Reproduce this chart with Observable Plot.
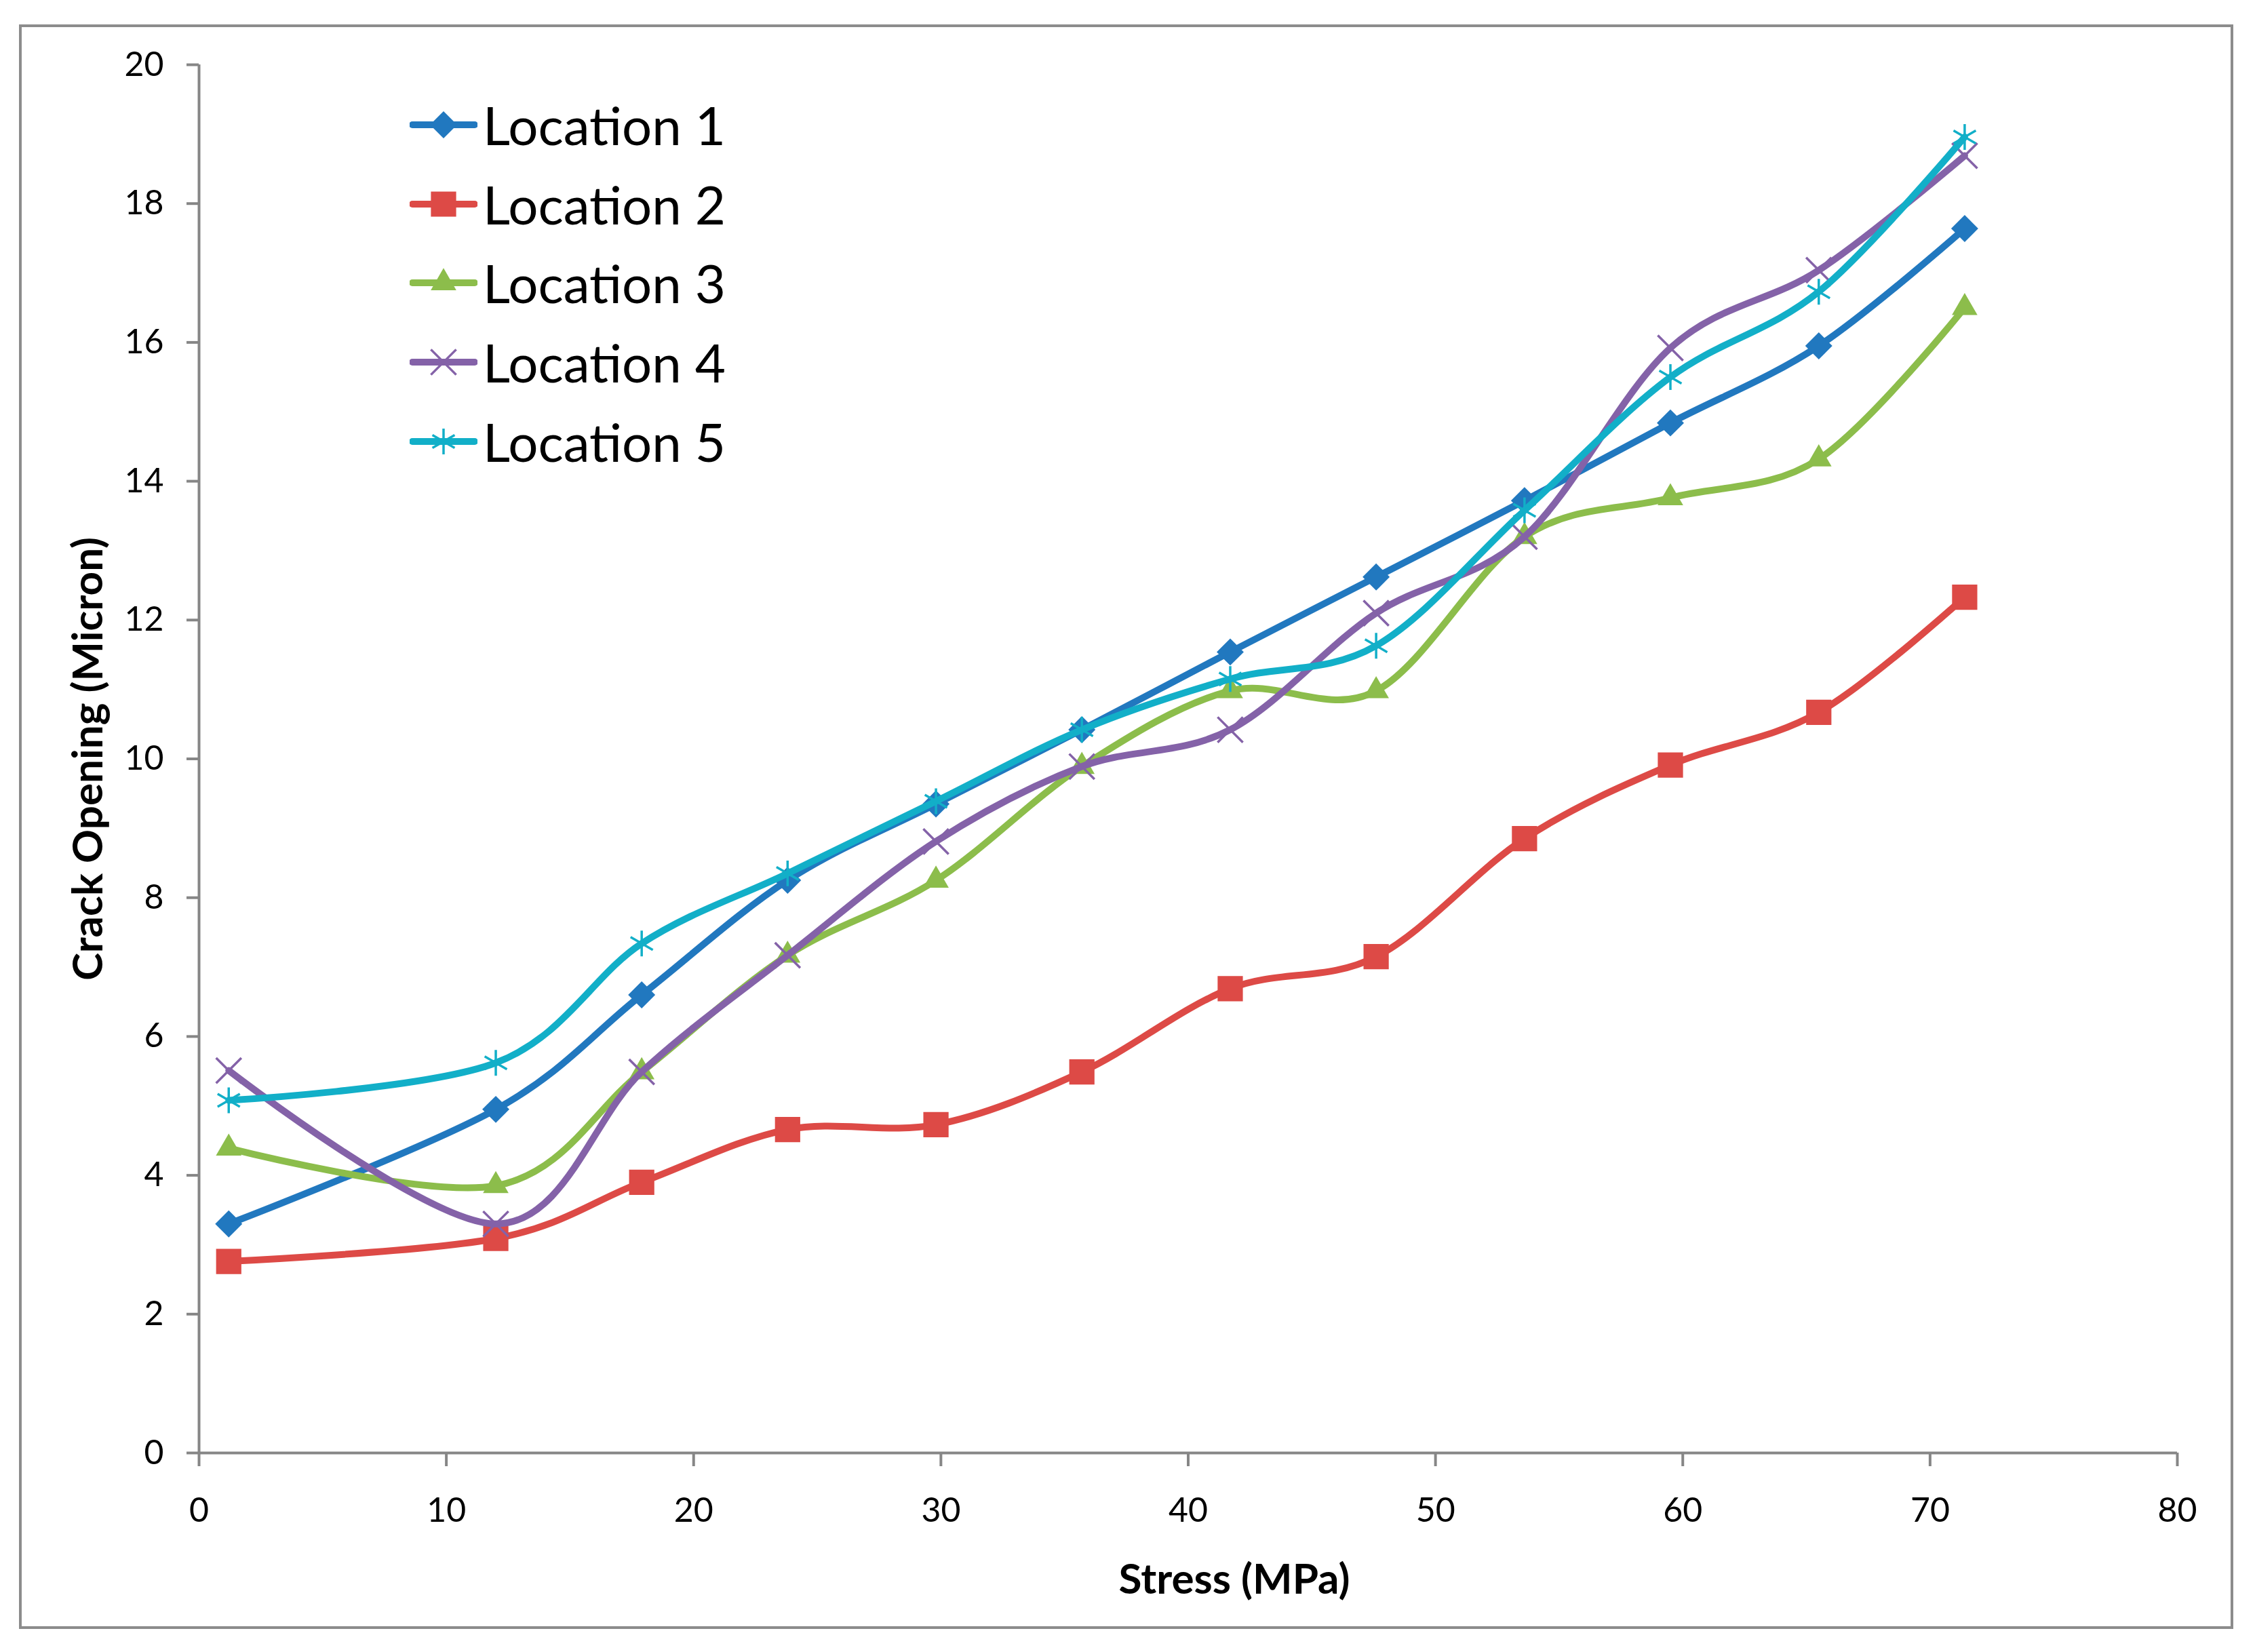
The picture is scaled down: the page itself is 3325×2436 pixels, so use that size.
<!DOCTYPE html>
<html><head><meta charset="utf-8">
<script src="https://cdn.jsdelivr.net/npm/d3@7"></script>
<script src="https://cdn.jsdelivr.net/npm/@observablehq/plot@0.6"></script>
<style>
html,body{margin:0;padding:0;background:#fff;}
#wrap{position:relative;width:3325px;height:2436px;overflow:hidden;font-family:Lato,"Open Sans",sans-serif;background:#fff;}
#frame{position:absolute;left:28px;top:36px;width:3257px;height:2358px;border:4px solid #8c8c8c;pointer-events:none;}
#chart{position:absolute;left:0;top:0;}
#legend{position:absolute;left:0;top:0;}
.item{position:absolute;display:flex;align-items:center;height:100px;}
.item span{font-size:78px;color:#000;margin-left:8px;line-height:1;white-space:nowrap;}
</style></head>
<body><div id="wrap"><div id="chart"></div><div id="legend"></div><div id="frame"></div></div>
<script>
// ---- data ----
const stress = [1.2, 12, 17.9, 23.8, 29.8, 35.7, 41.7, 47.6, 53.6, 59.5, 65.5, 71.4];
const location1 = [3.3, 4.95, 6.6, 8.25, 9.35, 10.42, 11.54, 12.62, 13.72, 14.84, 15.95, 17.64];
const location2 = [2.76, 3.09, 3.9, 4.66, 4.73, 5.49, 6.69, 7.15, 8.85, 9.91, 10.67, 12.33];
const location3 = [4.39, 3.85, 5.49, 7.17, 8.25, 9.89, 10.98, 10.98, 13.2, 13.76, 14.32, 16.5];
const location4 = [5.51, 3.3, 5.49, 7.17, 8.81, 9.89, 10.42, 12.1, 13.2, 15.92, 17.04, 18.69];
const location5 = [5.08, 5.62, 7.34, 8.35, 9.39, 10.42, 11.15, 11.63, 13.58, 15.5, 16.73, 18.96];
const seriesNames = ["Location 1", "Location 2", "Location 3", "Location 4", "Location 5"];
const xTicks = [0, 10, 20, 30, 40, 50, 60, 70, 80];
const yTicks = [0, 2, 4, 6, 8, 10, 12, 14, 16, 18, 20];
const xTitle = "Stress (MPa)";
const yTitle = "Crack Opening (Micron)";

// ---- styles ----
const seriesValues = [location1, location2, location3, location4, location5];
const styles = [
  {color: "#2178BF", symbol: "diamond2", filled: true, r: 18},
  {color: "#DD4A46", symbol: "square", filled: true, r: 21},
  {color: "#8CBD4B", symbol: "triangle", filled: true, r: 14},
  {color: "#8462A8", symbol: "times", filled: false, r: 17},
  {color: "#12AFC8", symbol: "asterisk", filled: false, r: 18}
];

const rows = seriesNames.flatMap((name, i) =>
  stress.map((s, j) => ({series: name, stress: s, value: seriesValues[i][j]})));

const marks = [];
seriesNames.forEach((name, i) => {
  const st = styles[i];
  const data = rows.filter(d => d.series === name);
  marks.push(Plot.line(data, {x: "stress", y: "value", stroke: st.color, strokeWidth: 10,
    curve: "cardinal", tension: 0, strokeLinejoin: "round", strokeLinecap: "round"}));
  marks.push(Plot.dot(data, st.filled
    ? {x: "stress", y: "value", symbol: () => st.symbol, r: st.r, fill: st.color, stroke: "none"}
    : {x: "stress", y: "value", symbol: () => st.symbol, r: st.r, fill: "none", stroke: st.color, strokeWidth: 3.5}));
});

const chart = Plot.plot({
  width: 3325,
  height: 2436,
  marginLeft: 293,
  marginRight: 115,
  marginTop: 95,
  marginBottom: 294,
  style: {fontFamily: "Lato, 'Open Sans', sans-serif", background: "transparent", color: "#000"},
  x: {domain: [0, 80]},
  y: {domain: [0, 20]},
  symbol: {type: "identity"},
  marks: [
    Plot.axisY({ticks: yTicks, tickSize: 18, tickPadding: 34, fontSize: 50, stroke: "#868686", strokeWidth: 4, fill: "#000", label: null, tickFormat: d => String(d)}),
    Plot.axisX({ticks: xTicks, tickSize: 20, tickPadding: 46, fontSize: 50, stroke: "#868686", strokeWidth: 4, fill: "#000", label: null, tickFormat: d => String(d)}),
    Plot.ruleX([0], {stroke: "#868686", strokeWidth: 4}),
    Plot.ruleY([0], {stroke: "#868686", strokeWidth: 4}),
    Plot.text([xTitle], {frameAnchor: "bottom", lineAnchor: "middle", textAnchor: "middle", dx: 68, dy: 188, fontSize: 62, fontWeight: "bold", fill: "#000", text: d => d}),
    Plot.text([yTitle], {frameAnchor: "left", lineAnchor: "middle", textAnchor: "middle", dx: -162, rotate: -90, fontSize: 62, fontWeight: "bold", fill: "#000", text: d => d}),
    ...marks
  ]
});
document.getElementById("chart").appendChild(chart);

// ---- legend ----
const legend = d3.select("#legend");
const symbolTypes = {diamond2: d3.symbolDiamond2, square: d3.symbolSquare, triangle: d3.symbolTriangle, times: d3.symbolTimes, asterisk: d3.symbolAsterisk};
seriesNames.forEach((name, i) => {
  const st = styles[i];
  const item = legend.append("div").attr("class", "item")
    .style("left", "604px").style("top", (134 + i * 116.7) + "px");
  const svg = item.append("svg").attr("width", 100).attr("height", 100);
  svg.append("line").attr("x1", 4).attr("x2", 96).attr("y1", 50).attr("y2", 50)
    .attr("stroke", st.color).attr("stroke-width", 10).attr("stroke-linecap", "round");
  const path = d3.symbol(symbolTypes[st.symbol], Math.PI * st.r * st.r)();
  const p = svg.append("path").attr("d", path).attr("transform", "translate(50,50)");
  if (st.filled) p.attr("fill", st.color);
  else p.attr("fill", "none").attr("stroke", st.color).attr("stroke-width", 3.5);
  item.append("span").text(name);
});
</script>
</body></html>
